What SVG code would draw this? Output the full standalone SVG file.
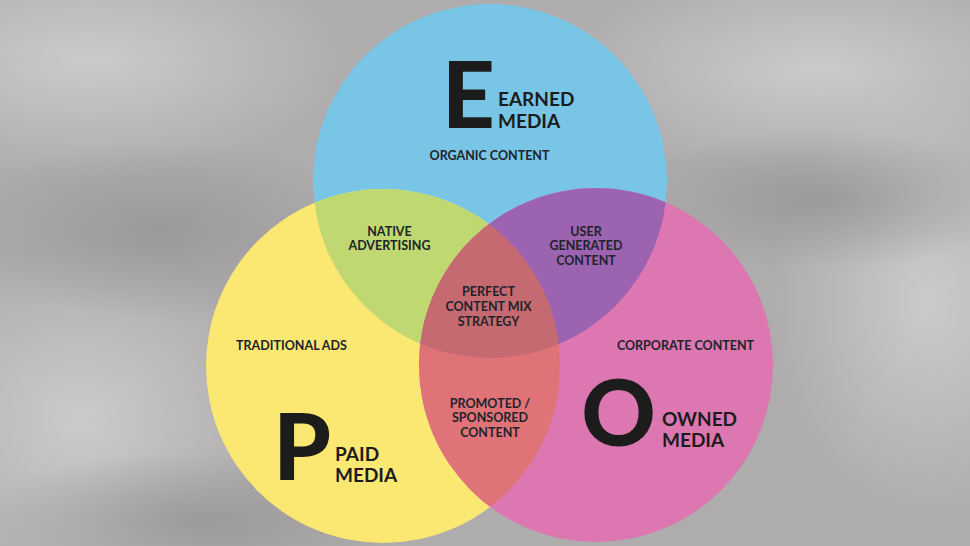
<svg xmlns="http://www.w3.org/2000/svg" width="970" height="546" viewBox="0 0 970 546">
  <defs>
    <radialGradient id="l1" cx="0.5" cy="0.5" r="0.5"><stop offset="0" stop-color="#cfcdcd" stop-opacity="0.9"/><stop offset="1" stop-color="#cfcdcd" stop-opacity="0"/></radialGradient>
    <radialGradient id="d1" cx="0.5" cy="0.5" r="0.5"><stop offset="0" stop-color="#969494" stop-opacity="0.8"/><stop offset="1" stop-color="#969494" stop-opacity="0"/></radialGradient>
    <clipPath id="cE"><circle cx="490" cy="181" r="177"/></clipPath>
    <clipPath id="cP"><circle cx="383" cy="366" r="177"/></clipPath>
    <clipPath id="cO"><circle cx="596" cy="365" r="177"/></clipPath>
  </defs>
  <style>
    .lbl{font-family:"Lato","Liberation Sans",sans-serif;font-weight:700;font-size:12.5px;fill:#20242a;text-anchor:middle}
    .big{font-family:"Lato","Liberation Sans",sans-serif;font-weight:900;font-size:92px;fill:#1c1c1c;text-anchor:middle}
    .name{font-family:"Lato","Liberation Sans",sans-serif;font-weight:700;font-size:19px;fill:#1c1c1c}
  </style>
  <g id="background">
    <rect width="970" height="546" fill="#aeacac"/>
    <ellipse cx="90" cy="60" rx="260" ry="120" fill="url(#l1)"/>
    <ellipse cx="820" cy="70" rx="260" ry="110" fill="url(#l1)"/>
    <ellipse cx="930" cy="300" rx="160" ry="220" fill="url(#l1)"/>
    <ellipse cx="80" cy="420" rx="200" ry="180" fill="url(#l1)"/>
    <ellipse cx="160" cy="230" rx="220" ry="90" fill="url(#d1)"/>
    <ellipse cx="820" cy="200" rx="200" ry="70" fill="url(#d1)"/>
    <ellipse cx="200" cy="520" rx="220" ry="70" fill="url(#d1)"/>
  </g>
  <g id="earned">
    <circle cx="490" cy="181" r="177" fill="#79c5e6"/>
  </g>
  <g id="paid">
    <circle cx="383" cy="366" r="177" fill="#fbe872"/>
  </g>
  <g id="owned">
    <circle cx="596" cy="365" r="177" fill="#dc77b1"/>
  </g>
  <g id="overlaps">
    <g id="native-advertising" clip-path="url(#cE)"><circle cx="383" cy="366" r="177" fill="#bfd871"/></g>
    <g id="user-generated" clip-path="url(#cE)"><circle cx="596" cy="365" r="177" fill="#9c63b1"/></g>
    <g id="promoted" clip-path="url(#cP)"><circle cx="596" cy="365" r="177" fill="#e07378"/></g>
    <g id="perfect-mix" clip-path="url(#cE)"><g clip-path="url(#cP)"><circle cx="596" cy="365" r="177" fill="#c66a72"/></g></g>
  </g>
  <g id="connectors"/>
  <g id="earned-text">
    <text class="big" x="468.5" y="128">E</text>
    <text class="name" x="498" y="106">EARNED</text>
    <text class="name" x="498" y="128">MEDIA</text>
    <text class="lbl" x="489.5" y="160">ORGANIC CONTENT</text>
  </g>
  <g id="paid-text">
    <text class="big" x="302" y="480">P</text>
    <text class="name" x="335" y="461">PAID</text>
    <text class="name" x="335" y="482">MEDIA</text>
    <text class="lbl" x="291.5" y="350">TRADITIONAL ADS</text>
  </g>
  <g id="owned-text">
    <text class="big" x="618.5" y="446">O</text>
    <text class="name" x="662" y="426">OWNED</text>
    <text class="name" x="662" y="447">MEDIA</text>
    <text class="lbl" x="685.5" y="350">CORPORATE CONTENT</text>
  </g>
  <g id="overlap-text">
    <text class="lbl" x="389.5" y="235.5">NATIVE</text>
    <text class="lbl" x="389.5" y="250">ADVERTISING</text>
    <text class="lbl" x="586" y="235.5">USER</text>
    <text class="lbl" x="586" y="250">GENERATED</text>
    <text class="lbl" x="586" y="265">CONTENT</text>
    <text class="lbl" x="488.5" y="296">PERFECT</text>
    <text class="lbl" x="488.5" y="311">CONTENT MIX</text>
    <text class="lbl" x="488.5" y="326">STRATEGY</text>
    <text class="lbl" x="490" y="407.5">PROMOTED /</text>
    <text class="lbl" x="490" y="422">SPONSORED</text>
    <text class="lbl" x="490" y="437">CONTENT</text>
  </g>
</svg>
